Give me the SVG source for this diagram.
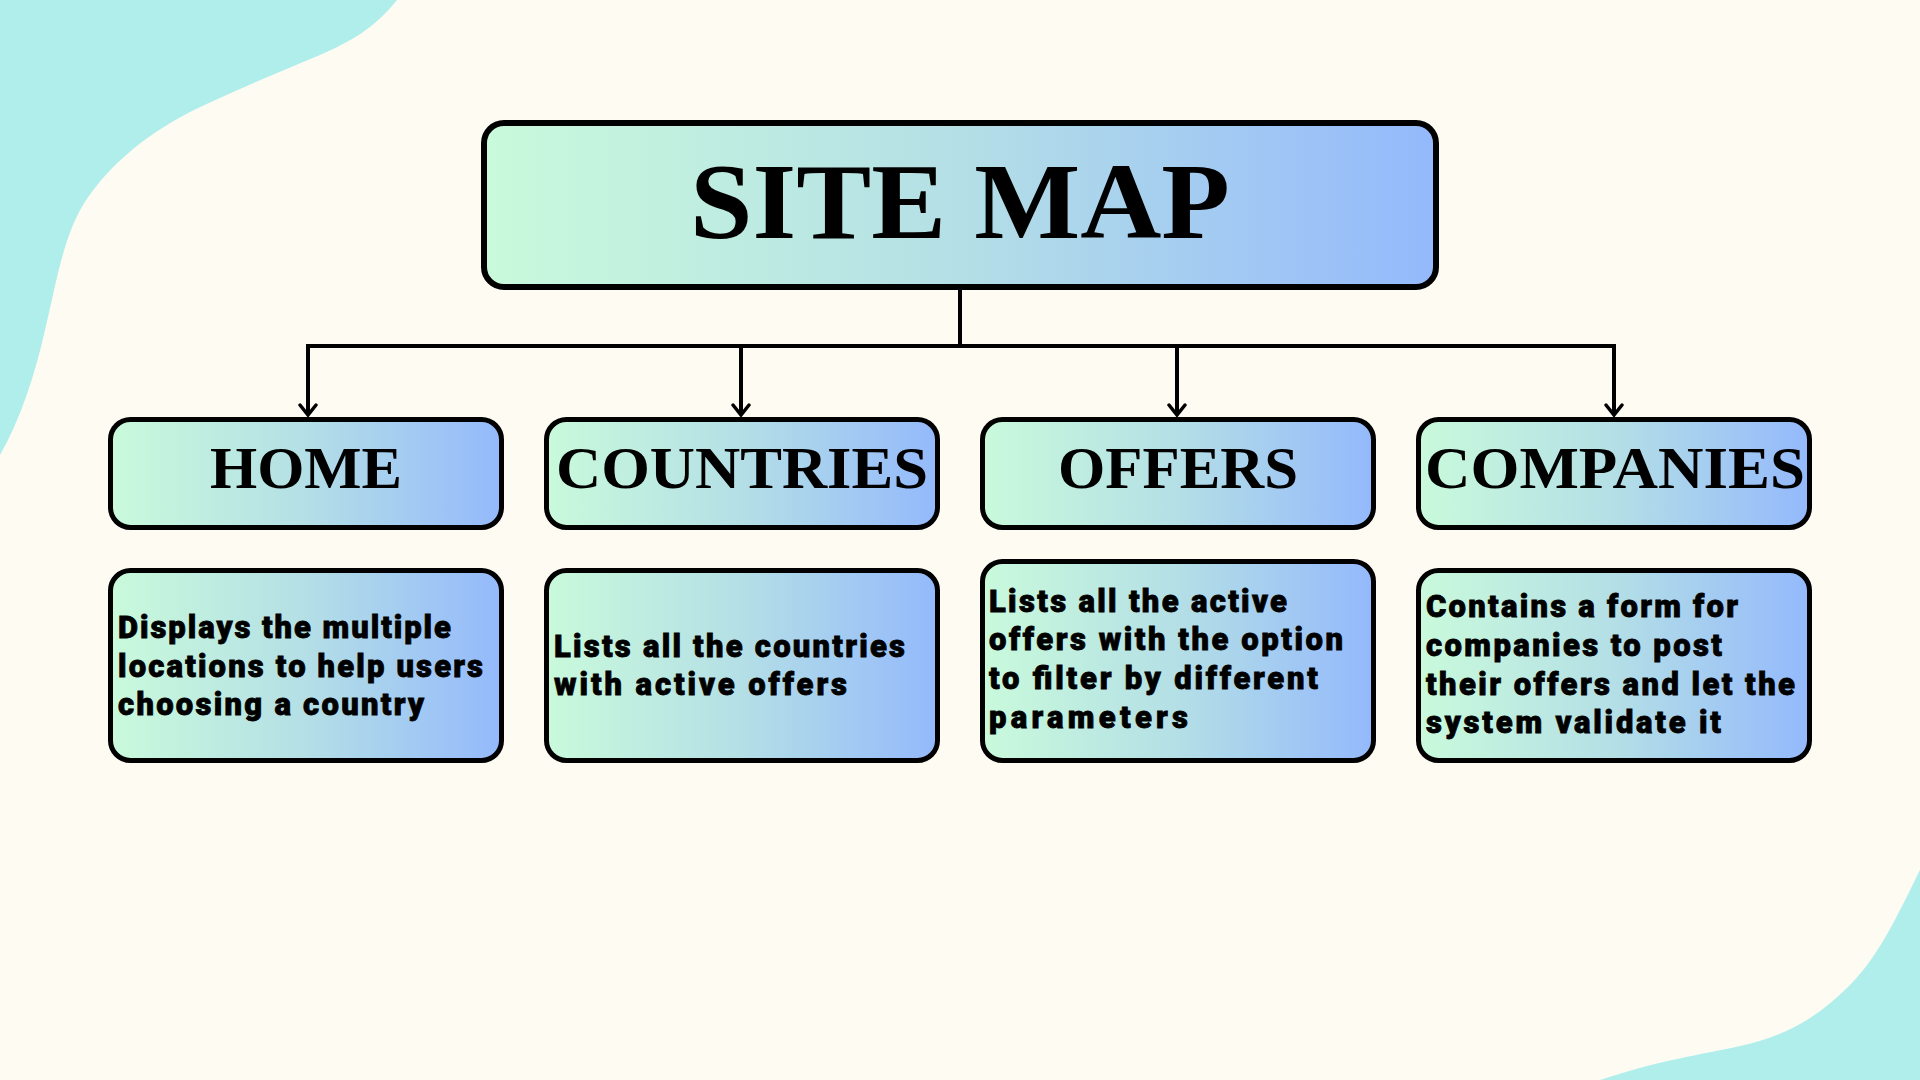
<svg xmlns="http://www.w3.org/2000/svg" width="1920" height="1080" viewBox="0 0 1920 1080">
  <defs>
    <linearGradient id="boxFill" x1="0" y1="0" x2="1" y2="0">
      <stop offset="0" stop-color="#C9FADB"/>
      <stop offset="0.5" stop-color="#B4DFE6"/>
      <stop offset="1" stop-color="#94B9FC"/>
    </linearGradient>
    <marker id="arrow" viewBox="-12 -10 14 20" refX="0" refY="0" markerWidth="14" markerHeight="20" orient="auto" markerUnits="userSpaceOnUse">
      <path d="M-10,-8 L0,0 L-10,8" fill="none" stroke="#000" stroke-width="3.5" stroke-linecap="round" stroke-linejoin="miter"/>
    </marker>
    <style>
      .box { fill: url(#boxFill); stroke: #000; stroke-width: 5; }
      .title { font-family: "Liberation Serif", "DejaVu Serif", serif; font-weight: bold; fill: #000; }
      .label { font-family: "Liberation Serif", "DejaVu Serif", serif; font-weight: bold; font-size: 60px; fill: #000; }
      .desc { font-family: Roboto, "Open Sans", sans-serif; font-weight: 900; font-size: 31px; fill: #000; stroke: #000; stroke-width: 0.8px; }
      .wire { fill: none; stroke: #000; stroke-width: 4; }
    </style>
  </defs>

  <!-- page background and corner shapes -->
  <rect x="0" y="0" width="1920" height="1080" fill="#FEFBF3"/>
  <path d="M0,0 H397 C375,28 350,42 320,55 C280,72 230,92 190,112 C140,138 105,170 83,205 C62,240 55,290 45,330 C35,375 20,420 0,455 Z" fill="#B0EEEC"/>
  <path d="M1920,870 C1900,910 1880,955 1850,985 C1820,1015 1790,1035 1740,1046 C1700,1055 1660,1060 1600,1080 L1920,1080 Z" fill="#B0EEEC"/>

  <!-- connectors -->
  <g id="connectors">
    <path class="wire" d="M960,290 V346"/>
    <path class="wire" d="M306,346 H1616"/>
    <path class="wire" d="M308,346 V415" marker-end="url(#arrow)"/>
    <path class="wire" d="M741,346 V415" marker-end="url(#arrow)"/>
    <path class="wire" d="M1177,346 V415" marker-end="url(#arrow)"/>
    <path class="wire" d="M1614,346 V415" marker-end="url(#arrow)"/>
  </g>

  <!-- root -->
  <g id="site-map">
    <rect class="box" x="484" y="123" width="952" height="164" rx="20" style="stroke-width:6"/>
    <text class="title" x="960" y="238" font-size="107" text-anchor="middle" textLength="540" lengthAdjust="spacingAndGlyphs">SITE MAP</text>
  </g>

  <!-- section headers -->
  <g id="home">
    <rect class="box" x="110.5" y="419.5" width="391" height="108" rx="20"/>
    <text class="label" x="306" y="488" text-anchor="middle" textLength="192" lengthAdjust="spacingAndGlyphs">HOME</text>
  </g>
  <g id="countries">
    <rect class="box" x="546.5" y="419.5" width="391" height="108" rx="20"/>
    <text class="label" x="742" y="488" text-anchor="middle" textLength="372" lengthAdjust="spacingAndGlyphs">COUNTRIES</text>
  </g>
  <g id="offers">
    <rect class="box" x="982.5" y="419.5" width="391" height="108" rx="20"/>
    <text class="label" x="1178" y="488" text-anchor="middle" textLength="240" lengthAdjust="spacingAndGlyphs">OFFERS</text>
  </g>
  <g id="companies">
    <rect class="box" x="1418.5" y="419.5" width="391" height="108" rx="20"/>
    <text class="label" x="1615" y="488" text-anchor="middle" textLength="380" lengthAdjust="spacingAndGlyphs">COMPANIES</text>
  </g>

  <!-- section descriptions -->
  <g id="home-desc">
    <rect class="box" x="110.5" y="570.5" width="391" height="190" rx="20"/>
    <text class="desc">
      <tspan x="118" y="638" textLength="333">Displays the multiple</tspan>
      <tspan x="118" y="677" textLength="365">locations to help users</tspan>
      <tspan x="118" y="715" textLength="306">choosing a country</tspan>
    </text>
  </g>
  <g id="countries-desc">
    <rect class="box" x="546.5" y="570.5" width="391" height="190" rx="20"/>
    <text class="desc">
      <tspan x="554" y="657" textLength="351">Lists all the countries</tspan>
      <tspan x="554" y="695" textLength="293">with active offers</tspan>
    </text>
  </g>
  <g id="offers-desc">
    <rect class="box" x="982.5" y="561.5" width="391" height="199" rx="20"/>
    <text class="desc">
      <tspan x="989" y="612" textLength="298">Lists all the active</tspan>
      <tspan x="989" y="650" textLength="354">offers with the option</tspan>
      <tspan x="989" y="689" textLength="329">to filter by different</tspan>
      <tspan x="989" y="728" textLength="199">parameters</tspan>
    </text>
  </g>
  <g id="companies-desc">
    <rect class="box" x="1418.5" y="570.5" width="391" height="190" rx="20"/>
    <text class="desc">
      <tspan x="1426" y="617" textLength="312">Contains a form for</tspan>
      <tspan x="1426" y="656" textLength="296">companies to post</tspan>
      <tspan x="1426" y="695" textLength="369">their offers and let the</tspan>
      <tspan x="1426" y="733" textLength="295">system validate it</tspan>
    </text>
  </g>
</svg>
